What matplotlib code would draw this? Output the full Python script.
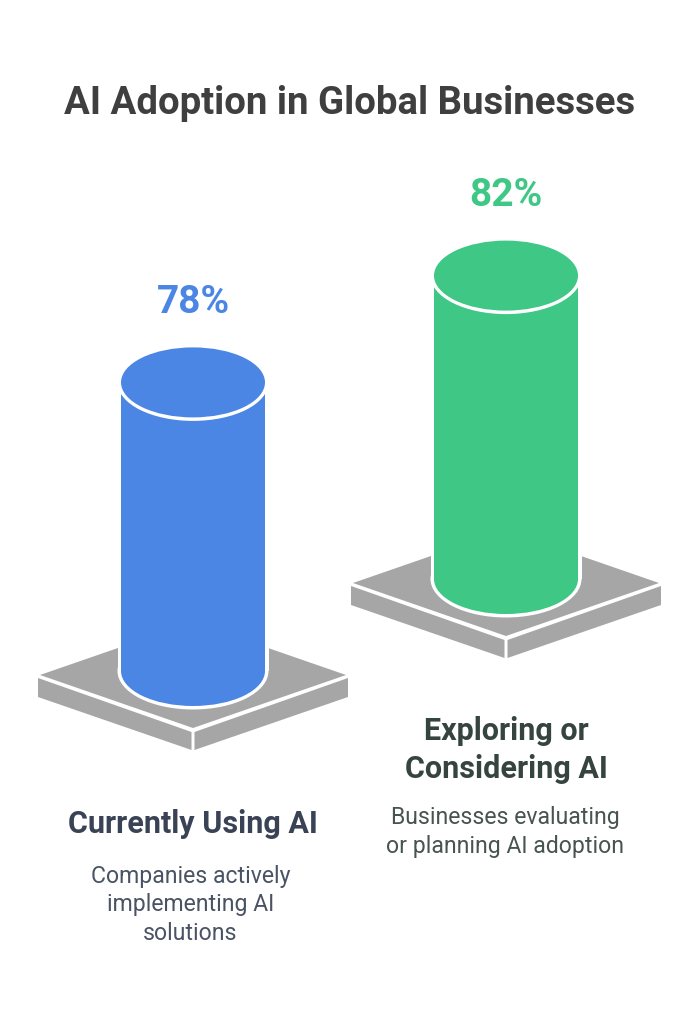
import matplotlib
matplotlib.use('Agg')
import matplotlib.pyplot as plt
from matplotlib.patches import Ellipse, Polygon, Rectangle

plt.rcParams['font.family'] = ['Roboto', 'DejaVu Sans']

title = 'AI Adoption in Global Businesses'
percent = [78, 82]
names = ['Currently Using AI', 'Exploring or\nConsidering AI']
notes = ['Companies actively\nimplementing AI\nsolutions', 'Businesses evaluating\nor planning AI adoption']

bar_colors = ['#4C86E4', '#3EC785']
name_colors = ['#3A4355', '#36443F']
note_colors = ['#4A5364', '#47544F']
gray = '#A6A6A6'

# layout in image pixels
W, H = 699, 1024
px_per_pct = 3.7
centers = [193, 506]
base_y = [671, 579]
rx, ry = 72, 35
name_y = [824, 750]
note_y = [905, 832]
note_x = [190.5, 505.5]

fig = plt.figure(figsize=(W / 100, H / 100), dpi=100)
ax = fig.add_axes([0, 0, 1, 1])
ax.set_xlim(0, W)
ax.set_ylim(H, 0)
ax.axis('off')


def draw_plate(cx, by):
    # by = centre of the bottom ellipse, plate is placed relative to it
    top = by + 4
    hw, hh = 153, 53
    ax.add_patch(Polygon([(cx - hw, top), (cx, top - hh), (cx + hw, top), (cx, top + hh)],
                         fc=gray, ec='none', zorder=1))
    ax.add_patch(Polygon([(cx - 155, top + 3), (cx - 1.5, top + 57), (cx - 1.5, top + 75), (cx - 155, top + 22)],
                         fc=gray, ec='none', zorder=1))
    ax.add_patch(Polygon([(cx + 1.5, top + 57), (cx + 155, top + 3), (cx + 155, top + 22), (cx + 1.5, top + 75)],
                         fc=gray, ec='none', zorder=1))


def draw_cylinder(cx, by, pct, color):
    h = pct * px_per_pct
    ty = by - h
    # white halo round the body
    ax.add_patch(Rectangle((cx - rx - 3.5, ty), 2 * rx + 7, h, fc='white', ec='none', zorder=2))
    ax.add_patch(Ellipse((cx, by), 2 * rx + 7, 2 * ry + 7, fc='white', ec='none', zorder=2))
    ax.add_patch(Rectangle((cx - rx, ty), 2 * rx, h, fc=color, ec='none', zorder=3))
    ax.add_patch(Ellipse((cx, by), 2 * rx, 2 * ry, fc=color, ec='none', zorder=3))
    ax.add_patch(Ellipse((cx, ty), 2 * rx + 7, 2 * ry + 7, fc='white', ec='none', zorder=4))
    ax.add_patch(Ellipse((cx, ty), 2 * rx, 2 * ry, fc=color, ec='none', zorder=5))
    return ty


ax.text(349.5, 104, title, ha='center', va='center', fontsize=27.6, fontweight='bold', color='#3F3F3F')

for i in range(2):
    draw_plate(centers[i], base_y[i])
    ty = draw_cylinder(centers[i], base_y[i], percent[i], bar_colors[i])
    ax.text(centers[i], ty - 80, f'{percent[i]}%', ha='center', va='center',
            fontsize=28, fontweight='bold', color=bar_colors[i])
    ax.text(centers[i], name_y[i], names[i], ha='center', va='center',
            fontsize=22, fontweight='bold', color=name_colors[i], linespacing=1.32)
    ax.text(note_x[i], note_y[i], notes[i], ha='center', va='center',
            fontsize=16.6, color=note_colors[i], linespacing=1.32)

fig.savefig('out.png', dpi=100, facecolor='white')
